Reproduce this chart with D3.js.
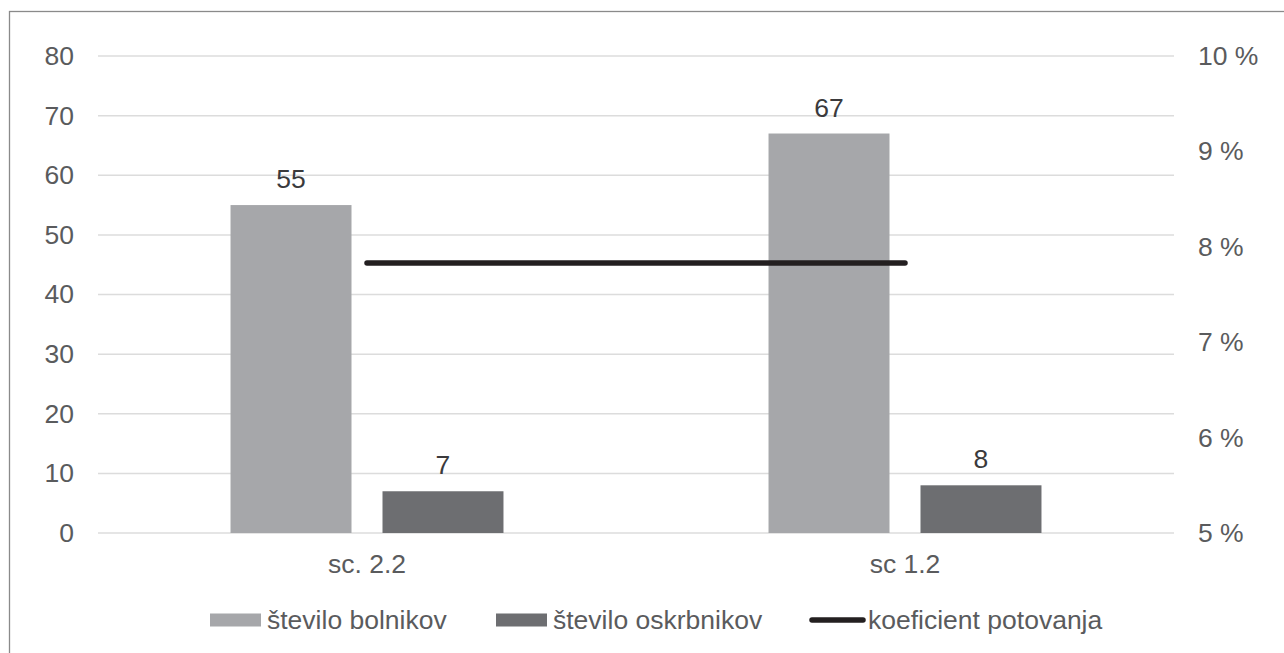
<!DOCTYPE html>
<html>
<head>
<meta charset="utf-8">
<script src="https://cdn.jsdelivr.net/npm/d3@7"></script>
<style>
  html, body { margin: 0; padding: 0; background: #fff; }
  svg { display: block; font-family: "Liberation Sans", Arial, sans-serif; }
</style>
</head>
<body>
<svg id="chart" width="1284" height="653"></svg>
<script>
// Scenarios on the category axis
const categories = ["sc. 2.2", "sc 1.2"];
// Series shown as bars (left axis)
const patients = [55, 67];     // število bolnikov
const caregivers = [7, 8];     // število oskrbnikov
// Series shown as a line (right axis, percent)
const travelCoef = [7.83, 7.83]; // koeficient potovanja
// Axis ticks
const leftTicks = [0, 10, 20, 30, 40, 50, 60, 70, 80];
const rightTicks = [5, 6, 7, 8, 9, 10];
const seriesNames = ["število bolnikov", "število oskrbnikov", "koeficient potovanja"];

const colors = { light: "#a6a7aa", dark: "#6d6e71", line: "#231f20", text: "#5a5b5d", grid: "#dcdcdc", frame: "#8a8a8a" };
const FONT = 26.5;

const svg = d3.select("#chart");

// outer frame
svg.append("rect")
  .attr("x", 9.5).attr("y", 11.5)
  .attr("width", 1300).attr("height", 700)
  .attr("fill", "none").attr("stroke", colors.frame).attr("stroke-width", 1.3);

const plot = { left: 98, right: 1174, top: 56, bottom: 533 };

const yLeft = d3.scaleLinear().domain([0, 80]).range([plot.bottom, plot.top]);
const yRight = d3.scaleLinear().domain([5, 10]).range([plot.bottom, plot.top]);
const x0 = d3.scaleBand().domain(categories).range([plot.left, plot.right]).padding(0);
const x1 = d3.scaleBand().domain([0, 1]).range([0, x0.bandwidth()])
  .paddingInner(0.204).paddingOuter(0.872);

// gridlines
svg.append("g")
  .selectAll("line").data(leftTicks).join("line")
  .attr("x1", plot.left).attr("x2", plot.right)
  .attr("y1", d => yLeft(d)).attr("y2", d => yLeft(d))
  .attr("stroke", colors.grid).attr("stroke-width", 1.5);

// left axis labels
const axL = svg.append("g")
  .attr("transform", `translate(${plot.left - 24},0)`)
  .call(d3.axisLeft(yLeft).tickValues(leftTicks).tickSize(0).tickPadding(0));
axL.select(".domain").remove();
axL.selectAll("text")
  .attr("font-size", FONT).attr("fill", colors.text)
  .attr("font-family", "Liberation Sans, Arial, sans-serif");

// right axis labels
const axR = svg.append("g")
  .attr("transform", `translate(${plot.right + 24},0)`)
  .call(d3.axisRight(yRight).tickValues(rightTicks).tickSize(0).tickPadding(0)
    .tickFormat(d => d + " %"));
axR.select(".domain").remove();
axR.selectAll("text")
  .attr("font-size", FONT).attr("fill", colors.text)
  .attr("font-family", "Liberation Sans, Arial, sans-serif");

// category labels
const axB = svg.append("g")
  .attr("transform", `translate(0,${plot.bottom + 21})`)
  .call(d3.axisBottom(x0).tickSize(0).tickPadding(0));
axB.select(".domain").remove();
axB.selectAll("text")
  .attr("font-size", FONT).attr("fill", colors.text)
  .attr("font-family", "Liberation Sans, Arial, sans-serif");

// bars with value labels
const barSeries = [
  { values: patients, color: colors.light, idx: 0 },
  { values: caregivers, color: colors.dark, idx: 1 }
];
barSeries.forEach(s => {
  const g = svg.append("g");
  g.selectAll("rect").data(categories).join("rect")
    .attr("x", (c) => x0(c) + x1(s.idx))
    .attr("width", x1.bandwidth())
    .attr("y", (c, i) => yLeft(s.values[i]))
    .attr("height", (c, i) => yLeft(0) - yLeft(s.values[i]))
    .attr("fill", s.color);
  g.selectAll("text").data(categories).join("text")
    .attr("x", (c) => x0(c) + x1(s.idx) + x1.bandwidth() / 2)
    .attr("y", (c, i) => yLeft(s.values[i]) - 17)
    .attr("text-anchor", "middle")
    .attr("font-size", FONT).attr("fill", "#3a3a3c")
    .text((c, i) => s.values[i]);
});

// coefficient line
const line = d3.line()
  .x((d, i) => x0(categories[i]) + x0.bandwidth() / 2)
  .y(d => yRight(d));
svg.append("path")
  .datum(travelCoef)
  .attr("d", line)
  .attr("fill", "none").attr("stroke", colors.line)
  .attr("stroke-width", 5.5).attr("stroke-linecap", "round");

// legend
const legY = 620;
const leg = svg.append("g");
const legendItems = [
  { name: seriesNames[0], type: "rect", color: colors.light, x: 210 },
  { name: seriesNames[1], type: "rect", color: colors.dark, x: 496 },
  { name: seriesNames[2], type: "line", color: colors.line, x: 812 }
];
legendItems.forEach(it => {
  if (it.type === "rect") {
    leg.append("rect").attr("x", it.x).attr("y", legY - 6.5)
      .attr("width", 51).attr("height", 13).attr("fill", it.color);
    leg.append("text").attr("x", it.x + 57).attr("y", legY)
      .attr("dy", "0.35em").attr("font-size", FONT).attr("fill", colors.text).text(it.name);
  } else {
    leg.append("line").attr("x1", it.x).attr("x2", it.x + 51)
      .attr("y1", legY).attr("y2", legY)
      .attr("stroke", it.color).attr("stroke-width", 5.5).attr("stroke-linecap", "round");
    leg.append("text").attr("x", it.x + 56).attr("y", legY)
      .attr("dy", "0.35em").attr("font-size", FONT).attr("fill", colors.text).text(it.name);
  }
});
</script>
</body>
</html>
